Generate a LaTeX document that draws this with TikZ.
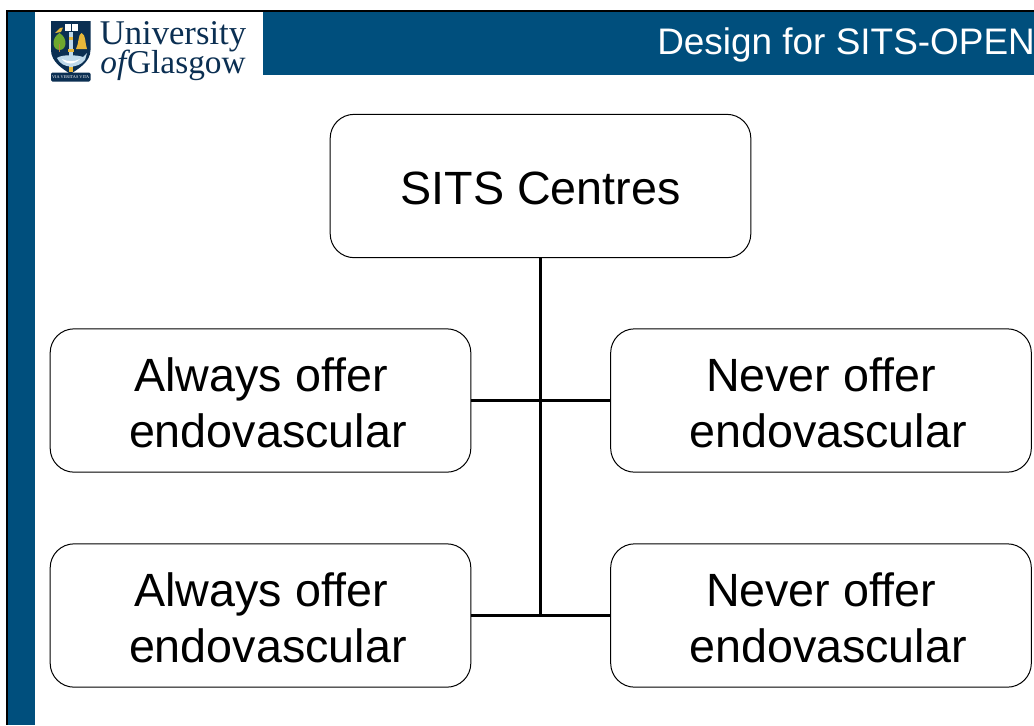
\documentclass[tikz,border=0pt]{standalone}
\usepackage{fontspec}
\setmainfont{Liberation Sans}
\newfontfamily\crestserif{Liberation Serif}
\definecolor{gublue}{HTML}{004F7D}
\definecolor{gunavy}{HTML}{0B2F52}
\definecolor{gugold}{HTML}{E8B83A}
\definecolor{gugreen}{HTML}{6FA82E}
\definecolor{gupale}{HTML}{BFD9EA}
\newcommand{\dropline}{\rule{0pt}{28.5pt}}
\newcommand{\nudgeline}{\hspace*{11pt}}
\tikzset{
  px/.style={x=0.75pt,y=-0.75pt},
  choice/.style={draw=black,line width=0.75pt,rounded corners=18pt,fill=white,
    minimum width=315.5pt,minimum height=107.5pt,inner sep=0pt,align=center,
    font=\fontsize{35}{42}\selectfont},
  link/.style={draw=black,line width=2.25pt},
  band/.style={fill=gublue,draw=none},
  rim/.style={fill=black,draw=none}
}
\begin{document}
\begin{tikzpicture}[px]
\useasboundingbox (0,0) rectangle (1034,725);
\fill[white] (0,0) rectangle (1034,725);
% frame and bands
\fill[band] (8,12) rectangle (35,725);
\fill[band] (263,12) rectangle (1034,75);
\fill[rim] (6,10) rectangle (1034,12);
\fill[rim] (6,10) rectangle (8,725);
\node[text=white,anchor=base west,inner sep=0pt,font=\fontsize{27.7}{30}\selectfont] (title) at (657,54) {Design for SITS-OPEN};
% crest
\fill[gunavy] (51,21) -- (90.5,21) -- (90.5,50) .. controls (90.5,62) and (78,69) .. (70.5,74) .. controls (63,69) and (51,62) .. (51,50) -- cycle;
\fill[gunavy,rounded corners=1pt] (51,72.5) rectangle (90.5,81.5);
\node[text=white,inner sep=0pt,font=\crestserif\fontsize{3.2}{3.2}\selectfont] (motto) at (70.7,77) {VIA VERITAS VITA};
\fill[white] (65,23.5) rectangle (78,31);
\draw[gunavy,line width=0.3pt] (71.5,24) -- (71.5,31);
\fill[gugold] (55,33) -- (60,28) -- (63,27.5) -- (61,32) -- cycle;
\fill[gugreen] (59.5,33) .. controls (51,38) and (52,50) .. (59.5,50) .. controls (67,50) and (68,38) .. (59.5,33) -- cycle;
\fill[brown] (59,44) rectangle (60.4,52);
\fill[gugold] (81.5,33) .. controls (78,34) and (79,44) .. (76,49) -- (87,49) .. controls (85,44) and (86,34) .. (81.5,33) -- cycle;
\fill[gupale] (69,32) rectangle (72.5,70);
\fill[gugold] (68.5,37) rectangle (73,40);
\fill[gugold] (68,49) rectangle (73.5,52);
\fill[gupale] (57,58) .. controls (62,54) and (78,55) .. (83,57) -- (87,53) -- (85,60) .. controls (78,69) and (62,69) .. (57,58) -- cycle;
\fill[white] (62,59) .. controls (68,62) and (74,62) .. (80,59) .. controls (74,65) and (66,65) .. (62,59) -- cycle;
\fill[gugold] (68.5,67) rectangle (73,72);
% wordmark
\node[text=gunavy,inner sep=0pt,anchor=base west,align=left,font=\crestserif\fontsize{26}{21.75}\selectfont] (wordmark) at (99.5,73) {University\\[-3pt]\hspace*{0.5pt}{\fontsize{25}{21.75}\selectfont\itshape of}\kern0.6pt{\fontsize{25}{21.75}\selectfont Glasgow}};
% boxes
\node[choice] (top) at (540.5,186) {\dropline SITS Centres};
\node[choice] (l1) at (260.5,400.5) {\dropline \hspace*{1pt}Always offer\\\nudgeline endovascular};
\node[choice] (r1) at (821,400.5) {\dropline Never offer\\\hspace*{10.5pt}endovascular};
\node[choice] (l2) at (260.5,615.5) {\dropline \hspace*{1pt}Always offer\\\nudgeline endovascular};
\node[choice] (r2) at (821,615.5) {\dropline Never offer\\\hspace*{10.5pt}endovascular};
% connectors
\coordinate (j2) at (top.south |- l2.east);
\draw[link] (top.south) -- (j2);
\draw[link] (l1.east) -- (r1.west);
\draw[link] (l2.east) -- (r2.west);
\end{tikzpicture}
\end{document}
